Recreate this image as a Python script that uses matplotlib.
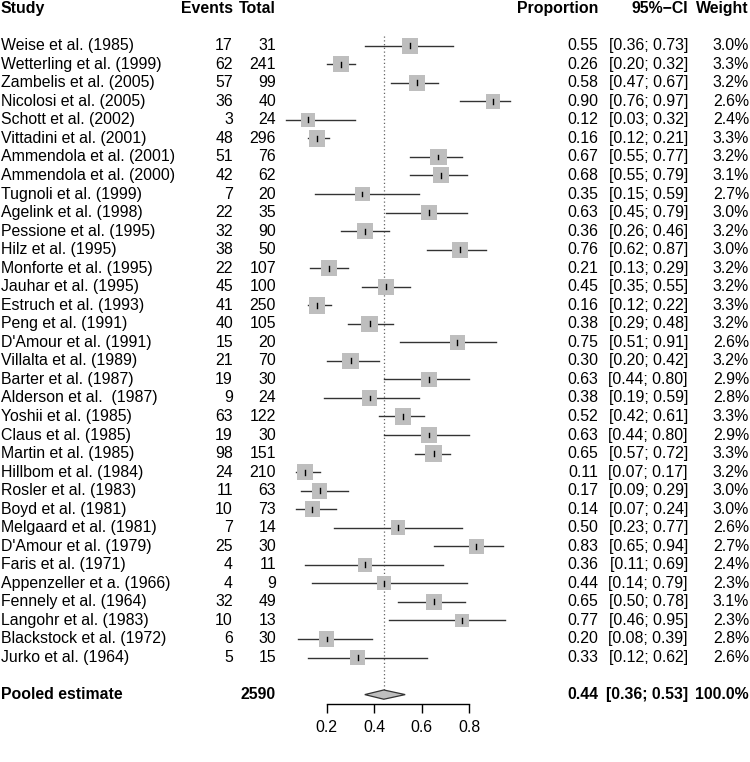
import numpy as np
import matplotlib.pyplot as plt
from matplotlib.patches import Rectangle, Polygon
from matplotlib.transforms import blended_transform_factory

plt.rcParams['font.family'] = ['Liberation Sans', 'DejaVu Sans']

# study data
studies = ["Weise et al. (1985)", "Wetterling et al. (1999)", "Zambelis et al. (2005)",
           "Nicolosi et al. (2005)", "Schott et al. (2002)", "Vittadini et al. (2001)",
           "Ammendola et al. (2001)", "Ammendola et al. (2000)", "Tugnoli et al. (1999)",
           "Agelink et al. (1998)", "Pessione et al. (1995)", "Hilz et al. (1995)",
           "Monforte et al. (1995)", "Jauhar et al. (1995)", "Estruch et al. (1993)",
           "Peng et al. (1991)", "D'Amour et al. (1991)", "Villalta et al. (1989)",
           "Barter et al. (1987)", "Alderson et al.  (1987)", "Yoshii et al. (1985)",
           "Claus et al. (1985)", "Martin et al. (1985)", "Hillbom et al. (1984)",
           "Rosler et al. (1983)", "Boyd et al. (1981)", "Melgaard et al. (1981)",
           "D'Amour et al. (1979)", "Faris et al. (1971)", "Appenzeller et a. (1966)",
           "Fennely et al. (1964)", "Langohr et al. (1983)", "Blackstock et al. (1972)",
           "Jurko et al. (1964)"]
events = [17, 62, 57, 36, 3, 48, 51, 42, 7, 22, 32, 38, 22, 45, 41, 40, 15, 21, 19, 9,
          63, 19, 98, 24, 11, 10, 7, 25, 4, 4, 32, 10, 6, 5]
totals = [31, 241, 99, 40, 24, 296, 76, 62, 20, 35, 90, 50, 107, 100, 250, 105, 20, 70,
          30, 24, 122, 30, 151, 210, 63, 73, 14, 30, 11, 9, 49, 13, 30, 15]
prop = [0.55, 0.26, 0.58, 0.90, 0.12, 0.16, 0.67, 0.68, 0.35, 0.63, 0.36, 0.76, 0.21,
        0.45, 0.16, 0.38, 0.75, 0.30, 0.63, 0.38, 0.52, 0.63, 0.65, 0.11, 0.17, 0.14,
        0.50, 0.83, 0.36, 0.44, 0.65, 0.77, 0.20, 0.33]
lower = [0.36, 0.20, 0.47, 0.76, 0.03, 0.12, 0.55, 0.55, 0.15, 0.45, 0.26, 0.62, 0.13,
         0.35, 0.12, 0.29, 0.51, 0.20, 0.44, 0.19, 0.42, 0.44, 0.57, 0.07, 0.09, 0.07,
         0.23, 0.65, 0.11, 0.14, 0.50, 0.46, 0.08, 0.12]
upper = [0.73, 0.32, 0.67, 0.97, 0.32, 0.21, 0.77, 0.79, 0.59, 0.79, 0.46, 0.87, 0.29,
         0.55, 0.22, 0.48, 0.91, 0.42, 0.80, 0.59, 0.61, 0.80, 0.72, 0.17, 0.29, 0.24,
         0.77, 0.94, 0.69, 0.79, 0.78, 0.95, 0.39, 0.62]
weight = [3.0, 3.3, 3.2, 2.6, 2.4, 3.3, 3.2, 3.1, 2.7, 3.0, 3.2, 3.0, 3.2, 3.2, 3.3,
          3.2, 2.6, 3.2, 2.9, 2.8, 3.3, 2.9, 3.3, 3.2, 3.0, 3.0, 2.6, 2.7, 2.4, 2.3,
          3.1, 2.3, 2.8, 2.6]

pooled_total = 2590
pooled_est, pooled_lo, pooled_hi = 0.44, 0.36, 0.53
ticks = [0.2, 0.4, 0.6, 0.8]

# layout in pixels
W, H = 750, 762
px_per_unit = 237.7
x0_px = 279.2          # pixel of proportion 0
row_px = 18.54
row0_px = 45.7         # pixel of first study row

fig = plt.figure(figsize=(W / 100, H / 100), dpi=100)
ax = fig.add_axes([0, 0, 1, 1])
ax.set_xlim(-x0_px / px_per_unit, (W - x0_px) / px_per_unit)
ax.set_ylim((H - row0_px) / row_px, -row0_px / row_px)
for s in ["top", "left", "right"]:
    ax.spines[s].set_visible(False)
ax.set_yticks([])

n = len(studies)
rows = np.arange(n)
pooled_row = n + 1

# reference line at pooled estimate
ax.plot([pooled_est, pooled_est], [-0.5, pooled_row - 0.25], color="#666666",
        lw=0.9, ls=(0, (1, 2)), zorder=1)

max_side = 16.5
for i in rows:
    ax.plot([lower[i], upper[i]], [i, i], color="#333333", lw=1.0, zorder=2)
    side = max_side * np.sqrt(weight[i] / max(weight))
    w = side / px_per_unit
    h = side / row_px
    ax.add_patch(Rectangle((prop[i] - w / 2, i - h / 2), w, h, facecolor="#BEBEBE",
                           edgecolor="none", zorder=3))
    ax.plot([prop[i], prop[i]], [i - 0.13, i + 0.13], color="black", lw=1.0, zorder=4)

# pooled diamond
dh = 0.25
ax.add_patch(Polygon([[pooled_lo, pooled_row], [pooled_est, pooled_row - dh],
                      [pooled_hi, pooled_row], [pooled_est, pooled_row + dh]],
                     closed=True, facecolor="#BEBEBE", edgecolor="#333333", lw=0.9, zorder=3))

fs = 11.4

# x axis
ax.spines["bottom"].set_position(("data", pooled_row + 0.52))
ax.spines["bottom"].set_bounds(ticks[0], ticks[-1])
ax.spines["bottom"].set_linewidth(1.0)
ax.set_xticks(ticks)
ax.set_xticklabels([f"{t:.1f}" for t in ticks])
ax.tick_params(axis="x", direction="out", length=6.5, width=1.0, pad=4.5, labelsize=fs)

# text columns
tr = blended_transform_factory(fig.transFigure, ax.transData)
col_study, col_events, col_total = 1, 233, 276
col_prop, col_ci, col_w = 598, 688, 749

hdr = -2
ax.text(col_study / W, hdr, "Study", transform=tr, ha="left", va="center", fontsize=fs, fontweight="bold")
ax.text(col_events / W, hdr, "Events", transform=tr, ha="right", va="center", fontsize=fs, fontweight="bold")
ax.text(col_total / W, hdr, "Total", transform=tr, ha="right", va="center", fontsize=fs, fontweight="bold")
ax.text(col_prop / W, hdr, "Proportion", transform=tr, ha="right", va="center", fontsize=fs, fontweight="bold")
ax.text(col_ci / W, hdr, "95%\u2212CI", transform=tr, ha="right", va="center", fontsize=fs, fontweight="bold")
ax.text(col_w / W, hdr, "Weight", transform=tr, ha="right", va="center", fontsize=fs, fontweight="bold")

for i in rows:
    ax.text(col_study / W, i, studies[i], transform=tr, ha="left", va="center", fontsize=fs)
    ax.text(col_events / W, i, str(events[i]), transform=tr, ha="right", va="center", fontsize=fs)
    ax.text(col_total / W, i, str(totals[i]), transform=tr, ha="right", va="center", fontsize=fs)
    ax.text(col_prop / W, i, f"{prop[i]:.2f}", transform=tr, ha="right", va="center", fontsize=fs)
    ax.text(col_ci / W, i, f"[{lower[i]:.2f}; {upper[i]:.2f}]", transform=tr, ha="right", va="center", fontsize=fs)
    ax.text(col_w / W, i, f"{weight[i]:.1f}%", transform=tr, ha="right", va="center", fontsize=fs)

pr = pooled_row
ax.text(col_study / W, pr, "Pooled estimate", transform=tr, ha="left", va="center", fontsize=fs, fontweight="bold")
ax.text(col_total / W, pr, str(pooled_total), transform=tr, ha="right", va="center", fontsize=fs, fontweight="bold")
ax.text(col_prop / W, pr, f"{pooled_est:.2f}", transform=tr, ha="right", va="center", fontsize=fs, fontweight="bold")
ax.text(col_ci / W, pr, f"[{pooled_lo:.2f}; {pooled_hi:.2f}]", transform=tr, ha="right", va="center", fontsize=fs, fontweight="bold")
ax.text(col_w / W, pr, "100.0%", transform=tr, ha="right", va="center", fontsize=fs, fontweight="bold")

fig.savefig("out.png", dpi=100)
